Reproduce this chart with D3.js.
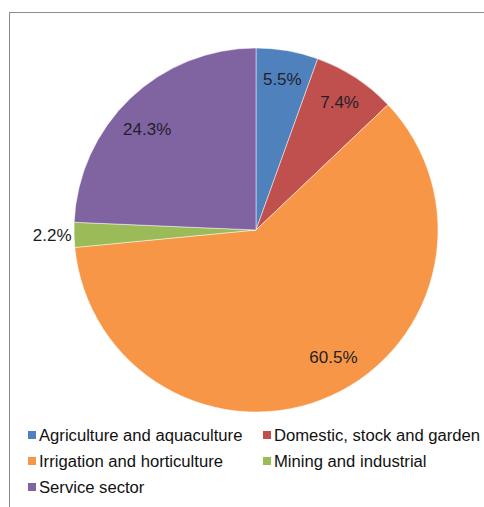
<!DOCTYPE html>
<html>
<head>
<meta charset="utf-8">
<script src="https://cdn.jsdelivr.net/npm/d3@7"></script>
<style>
	body { margin: 0; background: #fff; }
	text { font-family: Arial, "Liberation Sans", sans-serif; }
</style>
</head>
<body>
<svg id="chart" width="484" height="507"></svg>
<script>
var categories = ["Agriculture and aquaculture", "Domestic, stock and garden",
	"Irrigation and horticulture", "Mining and industrial", "Service sector"];
var shares = [5.5, 7.4, 60.5, 2.2, 24.3];
var colours = ["#4f81bd", "#c0504d", "#f79646", "#9bbb59", "#8064a2"];

var svg = d3.select("#chart"),
	cx = 256, cy = 230, r = 182;

// chart frame (runs off the right and bottom edge)
svg.append("rect")
	.attr("x", 9.5).attr("y", 12.5)
	.attr("width", 500).attr("height", 520)
	.attr("fill", "none")
	.attr("stroke", "#8c8c8c");

var pie = d3.pie().sort(null).value(function(d) { return d; });
var arcs = pie(shares);
var arc = d3.arc().innerRadius(0).outerRadius(r);

var g = svg.append("g").attr("transform", "translate(" + cx + "," + cy + ")");

g.selectAll("path")
	.data(arcs)
	.enter()
	.append("path")
	.attr("d", arc)
	.attr("fill", function(d, i) { return colours[i]; })
	.attr("stroke", "#fff")
	.attr("stroke-opacity", 0.6)
	.attr("stroke-width", 0.8);

// small slices get their label outside, the rest inside
var inner = d3.arc().innerRadius(r * 0.84).outerRadius(r * 0.84),
	outer = d3.arc().innerRadius(r * 1.12).outerRadius(r * 1.12);

g.selectAll("text.lbl")
	.data(arcs)
	.enter()
	.append("text")
	.attr("class", "lbl")
	.attr("transform", function(d) {
		var p = (d.data < 3 ? outer : inner).centroid(d);
		if (d.data > 50) { p[0] += 14; p[1] -= 12; }
		if (d.data > 20 && d.data < 50) { p[0] -= 3; p[1] += 9; }
		return "translate(" + p[0] + "," + p[1] + ")";
	})
	.attr("text-anchor", "middle")
	.attr("dy", "0.35em")
	.attr("font-size", 17)
	.attr("fill", function(d) { return d.data < 3 ? "#1a1a1a" : "#231f2a"; })
	.text(function(d) { return d.data.toFixed(1) + "%"; });

// legend, two columns
var legend = svg.append("g").selectAll("g")
	.data(categories)
	.enter()
	.append("g")
	.attr("transform", function(d, i) {
		var col = i % 2, row = Math.floor(i / 2);
		return "translate(" + (col ? 263 : 28) + "," + (431 + row * 26) + ")";
	});
legend.append("rect")
	.attr("width", 8).attr("height", 8)
	.attr("fill", function(d, i) { return colours[i]; });
legend.append("text")
	.attr("transform", "translate(11,10) scale(1.04,1)")
	.attr("font-size", 16)
	.attr("fill", "#111")
	.text(function(d) { return d; });
</script>
</body>
</html>
